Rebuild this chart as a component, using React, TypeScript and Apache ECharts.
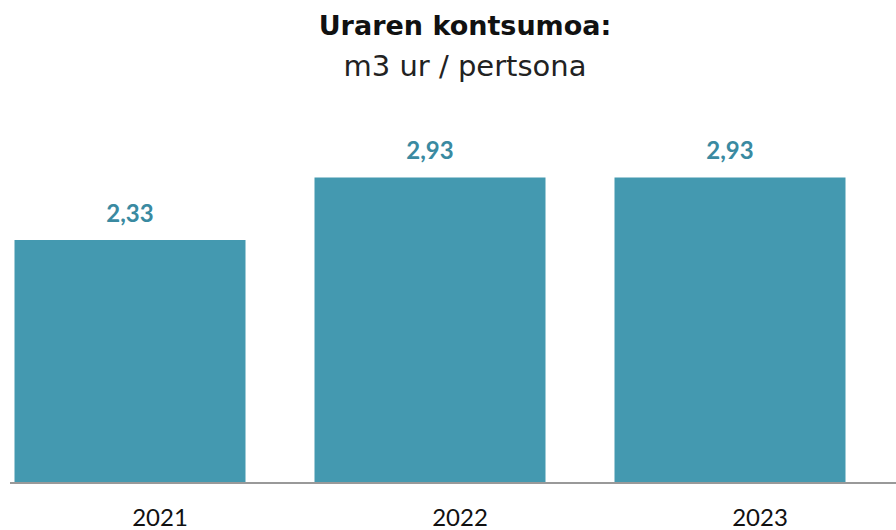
import React, { useEffect, useRef } from "react";
import * as echarts from "echarts";

const categories = ["2021", "2022", "2023"];
const values = [2.33, 2.93, 2.93];
const titleText = "Uraren kontsumoa:";
const subtitleText = "m3 ur / pertsona";

export default function App() {
  const ref = useRef<HTMLDivElement>(null);
  useEffect(() => {
    const chart = echarts.init(ref.current!, null, { renderer: "svg" });
    chart.setOption({
      animation: false,
      title: {
        text: titleText,
        subtext: subtitleText,
        left: 460,
        top: 7,
        textAlign: "center",
        itemGap: 12,
        textStyle: { fontFamily: "DejaVu Sans", fontWeight: "bold", fontSize: 27, color: "#111" },
        subtextStyle: { fontFamily: "DejaVu Sans", fontSize: 29, color: "#222" },
      },
      grid: { left: -20, right: 16, top: 118, bottom: 47, containLabel: false, outerBoundsMode: "none" },
      xAxis: {
        type: "category",
        data: categories,
        axisLine: { show: false },
        axisTick: { show: false },
        axisLabel: {
          fontFamily: "Lato",
          fontSize: 24,
          lineHeight: 24,
          color: "#111",
          margin: 21,
          padding: [0, 0, 0, 60],
        },
      },
      yAxis: {
        type: "value",
        min: 0,
        max: 3.5,
        show: false,
        splitLine: { show: false },
      },
      graphic: [
        {
          type: "line",
          shape: { x1: 10, y1: 483, x2: 896, y2: 483 },
          style: { stroke: "#999999", lineWidth: 2 },
          z: 100,
        },
      ],
      series: [
        {
          type: "bar",
          data: values,
          barWidth: 231,
          itemStyle: { color: "#4499b0" },
          label: {
            show: true,
            position: "top",
            distance: 16,
            fontFamily: "Lato",
            fontWeight: "bold",
            fontSize: 24,
            color: "#3a8aa1",
            formatter: (p: any) => p.value.toFixed(2).replace(".", ","),
          },
        },
      ],
    });
    return () => chart.dispose();
  }, []);
  return <div ref={ref} style={{ width: 896, height: 530, position: "absolute", left: 0, top: 0 }} />;
}
